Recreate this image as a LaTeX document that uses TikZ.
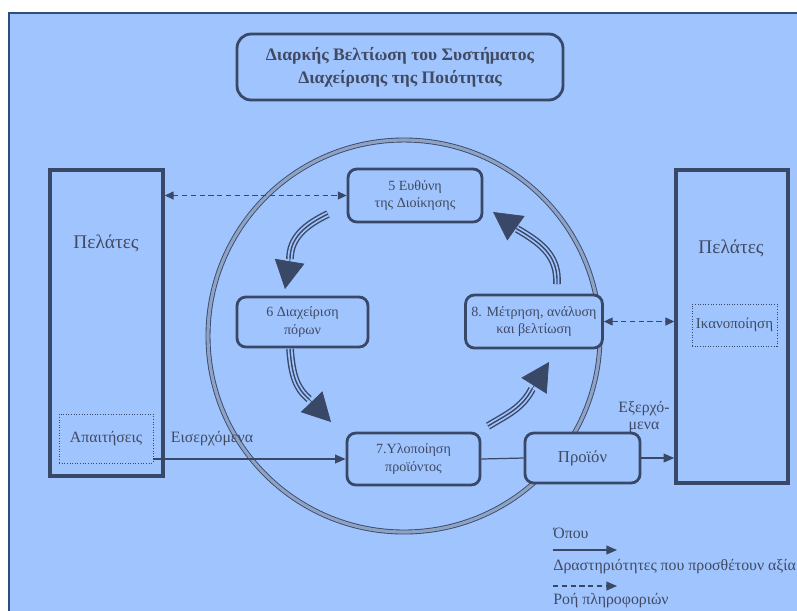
\documentclass[tikz,border=0pt]{standalone}
\usepackage{fontspec}
\setmainfont{Liberation Serif}
\usetikzlibrary{positioning, calc, arrows.meta}

\definecolor{bgblue}{HTML}{A0C4FE}
\definecolor{frameblue}{HTML}{2E4E80}
\definecolor{boxline}{HTML}{3A4868}
\definecolor{txtgray}{HTML}{404A62}
\definecolor{ringband}{HTML}{8EA3C4}

\tikzset{
  procbox/.style={draw=boxline, fill=bgblue, line width=1.6pt, rounded corners=5pt, align=center,
    font=\fontsize{8}{10}\selectfont, text=txtgray},
  custbox/.style={draw=boxline, line width=2pt},
  subbox/.style={draw=boxline, densely dotted, line width=0.5pt, text=txtgray},
  flowarrow/.style={draw=boxline, line width=0.7pt, -{Triangle[length=6pt,width=5pt]}},
  infoarrow/.style={draw=boxline, line width=0.7pt, dash pattern=on 3pt off 2pt,
    {Triangle[length=5pt,width=4.5pt]}-{Triangle[length=5pt,width=4.5pt]}},
  cyclearrow/.style={draw=boxline, line width=4.4pt,
    postaction={draw=bgblue, line width=2.8pt}, postaction={draw=boxline, line width=0.8pt}},
  cyclehead/.style={draw=boxline, line width=0.4pt, -{Triangle[length=16pt,width=17pt]}},
}

\begin{document}
\begin{tikzpicture}[x=0.02cm, y=-0.02cm] % 1 unit = 1 pixel of the reference

\useasboundingbox (0,0) rectangle (797,610);
\clip (0,0) rectangle (797,610);
\filldraw[fill=bgblue, draw=frameblue, line width=1.2pt] (9,13) rectangle (805,620);

% quality cycle ring
\draw[draw=boxline, double=ringband, double distance=1.8pt, line width=0.5pt] (404,336) circle (196);

% title
\node[procbox, rounded corners=8pt, minimum width=6.52cm, minimum height=1.32cm,
  font=\bfseries\fontsize{10}{13}\selectfont] (title) at (400,67)
  {Διαρκής Βελτίωση του Συστήματος\\Διαχείρισης της Ποιότητας};

% customers
\node[custbox, minimum width=2.26cm, minimum height=6.12cm] (lcust) at (106.5,323) {};
\node[text=txtgray, font=\fontsize{11}{13}\selectfont] (lcusttxt) at (106,243) {Πελάτες};
\node[subbox, minimum width=1.88cm, minimum height=0.98cm, font=\fontsize{9}{11}\selectfont] (req) at (106,438.5) {Απαιτήσεις};
\node[custbox, minimum width=2.24cm, minimum height=6.26cm] (rcust) at (732,326.5) {};
\node[text=txtgray, font=\fontsize{11}{13}\selectfont] (rcusttxt) at (731,248) {Πελάτες};
\node[subbox, minimum width=1.7cm, minimum height=0.84cm, inner sep=0pt, font=\fontsize{8.5}{10}\selectfont] (satisf) at (734.5,325) {Ικανοποίηση};

% processes
\node[procbox, minimum width=2.68cm, minimum height=1.06cm] (b5) at (415,195.5) {5 Ευθύνη\\της Διοίκησης};
\node[procbox, minimum width=2.62cm, minimum height=1.0cm] (b6) at (302.5,322) {6 Διαχείριση\\πόρων};
\node[procbox, minimum width=2.56cm, minimum height=1.06cm] (b8) at (534,321.5) {8. Μέτρηση, ανάλυση\\και βελτίωση};
\node[procbox, minimum width=2.66cm, minimum height=1.04cm] (b7) at (413.5,459) {7.Υλοποίηση\\προϊόντος};
\node[procbox, minimum width=2.3cm, minimum height=1.0cm, font=\fontsize{9.5}{11}\selectfont] (prod) at (582.5,458) {Προϊόν};

% cycle arrows
\coordinate (c5a) at (328,214); \coordinate (c5b) at (290,259); \coordinate (c5t) at (285,289);
\coordinate (c6a) at (290,349); \coordinate (c6b) at (309,399); \coordinate (c6t) at (331,422);
\coordinate (c7a) at (488,426); \coordinate (c7b) at (532,389); \coordinate (c7t) at (549,362);
\coordinate (c8a) at (557,284); \coordinate (c8b) at (517,229); \coordinate (c8t) at (493,212);
\draw[cyclearrow] (c5a) .. controls (305,225) and (290,238) .. (c5b);
\draw[cyclehead] (c5b) -- (c5t);
\draw[cyclearrow] (c6a) .. controls (292,375) and (296,388) .. (c6b);
\draw[cyclehead] (c6b) -- (c6t);
\draw[cyclearrow] (c7a) .. controls (508,414) and (522,408) .. (c7b);
\draw[cyclehead] (c7b) -- (c7t);
\draw[cyclearrow] (c8a) .. controls (558,258) and (545,245) .. (c8b);
\draw[cyclehead] (c8b) -- (c8t);

% flows
\draw[infoarrow] (lcust.east |- b5.west) -- (b5.west);
\draw[infoarrow] (b8.east) -- (rcust.west |- b8.east);
\draw[flowarrow] (req.east |- b7.west) -- (b7.west);
\draw[draw=boxline, line width=0.7pt] (b7.east) -- (prod.west);
\draw[flowarrow] (prod.east) -- (rcust.west |- prod.east);
\node[text=txtgray, font=\fontsize{9}{11}\selectfont] (inlbl) at (212,439) {Εισερχόμενα};
\node[text=txtgray, align=center, font=\fontsize{9}{10}\selectfont] (outlbl) at (644,417) {Εξερχό-\\μενα};

% legend
\node[anchor=west, text=txtgray, inner sep=0pt, font=\fontsize{9}{11}\selectfont] (lgtitle) at (553,533) {Όπου};
\coordinate (lg1s) at (553,550); \coordinate (lg1e) at (617,550);
\draw[flowarrow] (lg1s) -- (lg1e);
\node[anchor=west, text=txtgray, inner sep=0pt, font=\fontsize{9}{11}\selectfont] (lg1txt) at (553,567) {Δραστηριότητες που προσθέτουν αξία};
\coordinate (lg2s) at (553,586); \coordinate (lg2e) at (617,586);
\draw[flowarrow, dash pattern=on 3pt off 2pt] (lg2s) -- (lg2e);
\node[anchor=west, text=txtgray, inner sep=0pt, font=\fontsize{9}{11}\selectfont] (lg2txt) at (553,601) {Ροή πληροφοριών};

\end{tikzpicture}
\end{document}
